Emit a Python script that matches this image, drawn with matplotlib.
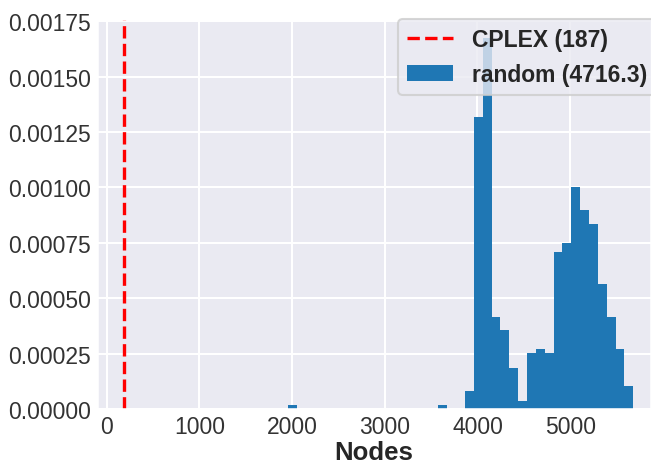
import numpy as np
import matplotlib
matplotlib.use('Agg')
import matplotlib.pyplot as plt
import seaborn as sns

sns.set_theme(style="darkgrid", context="talk")
plt.rcParams['font.family'] = ['Liberation Sans', 'DejaVu Sans']

# histogram of node counts (density), bins of equal width
bin_start = 1953.0
bin_width = 95.6
density = [1.8e-05, 0, 0, 0, 0, 0, 0, 0, 0, 0, 0, 0, 0, 0, 0, 0, 0, 1.8e-05, 0, 0,
           8.2e-05, 0.001319, 0.001675, 0.000414, 0.000356, 0.000187, 3.7e-05,
           0.000251, 0.000272, 0.000254, 0.000710, 0.000751, 0.001002, 0.000900,
           0.000833, 0.000564, 0.000414, 0.000272, 0.000102]
cplex_nodes = 187
random_mean = 4716.3

edges = bin_start + bin_width * np.arange(len(density) + 1)
centers = edges[:-1] + bin_width / 2

fig = plt.figure(figsize=(6.51, 4.64), dpi=100)
ax = fig.add_axes([0.1485, 0.1164, 0.8515, 0.8405])

ax.axvline(cplex_nodes, color='red', linestyle='--', linewidth=2.4,
           label="CPLEX (%d)" % cplex_nodes)
ax.hist(centers, bins=edges, weights=density, color='#1f77b4', linewidth=0,
        label="random (%.1f)" % random_mean)

ax.set_xlim(-108, 5872)
ax.set_ylim(0, 0.00176)
ax.set_yticks(np.arange(0, 0.0018, 0.00025))
ax.yaxis.set_major_formatter(matplotlib.ticker.FormatStrFormatter('%.5f'))
ax.tick_params(length=0, pad=4, labelsize=16.5, labelcolor='#333333')
ax.set_xlabel("Nodes", fontweight='bold', fontsize=18.5, labelpad=2)

leg = ax.legend(loc='upper right', bbox_to_anchor=(1.009, 1.0), borderaxespad=0,
                frameon=True, prop={'weight': 'bold', 'size': 16.5})

plt.savefig('out.png', dpi=100)
